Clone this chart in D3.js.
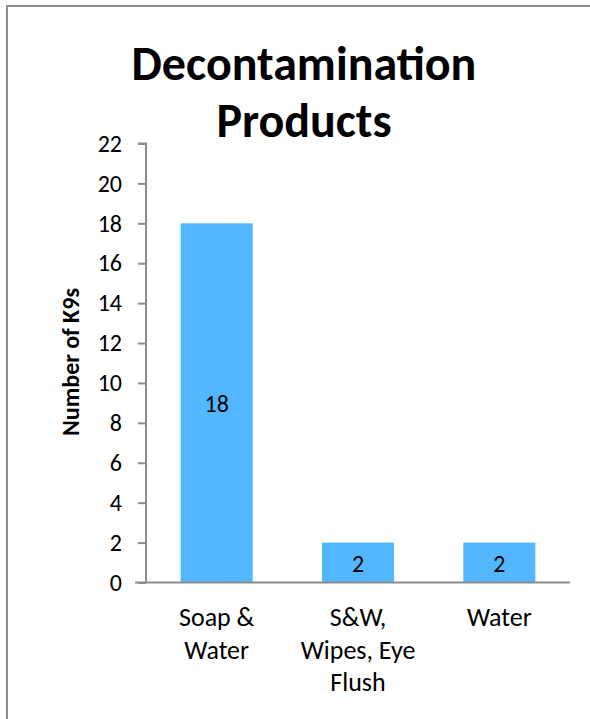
<!DOCTYPE html>
<html>
<head>
<meta charset="utf-8">
<script src="https://cdn.jsdelivr.net/npm/d3@7"></script>
<style>
  html, body { margin: 0; padding: 0; background: #fff; }
  svg { display: block; }
  text { font-family: Carlito, Lato, "Open Sans", sans-serif; }
</style>
</head>
<body>
<svg id="chart" width="590" height="719"></svg>
<script>
// Chart data
const categories = [["Soap &", "Water"], ["S&W,", "Wipes, Eye", "Flush"], ["Water"]];
const categoryKeys = ["Soap & Water", "S&W, Wipes, Eye Flush", "Water"];
const values = [18, 2, 2];
const yTicks = [0, 2, 4, 6, 8, 10, 12, 14, 16, 18, 20, 22];
const titleLines = ["Decontamination", "Products"];
const yLabel = "Number of K9s";

const svg = d3.select("#chart");
const W = 590, H = 719;
const FONT = "Carlito, Lato, 'Open Sans', sans-serif";

// outer frame (top and left edges visible)
svg.append("line").attr("x1", 7).attr("x2", W).attr("y1", 6).attr("y2", 6)
  .attr("stroke", "#8c8c8c").attr("stroke-width", 2);
svg.append("line").attr("x1", 7).attr("x2", 7).attr("y1", 5).attr("y2", H)
  .attr("stroke", "#8c8c8c").attr("stroke-width", 2);

const plot = { left: 146, right: 570, top: 143.5, bottom: 582.5 };

const x = d3.scaleBand().domain(categoryKeys)
  .range([plot.left, plot.right]).paddingInner(0.49).paddingOuter(0.245);
const y = d3.scaleLinear().domain([0, 22]).range([plot.bottom, plot.top]);

// title
const title = svg.append("text")
  .attr("text-anchor", "middle")
  .attr("font-size", 48).attr("font-weight", "bold").attr("fill", "#000");
titleLines.forEach((t, i) => {
  title.append("tspan").attr("x", 304).attr("y", 80 + i * 57).text(t);
});

// bars
svg.append("g").selectAll("rect").data(values).join("rect")
  .attr("x", (d, i) => x(categoryKeys[i]))
  .attr("y", d => y(d))
  .attr("width", x.bandwidth())
  .attr("height", d => y(0) - y(d))
  .attr("fill", "#52b7fe");

// value labels
svg.append("g").selectAll("text").data(values).join("text")
  .attr("x", (d, i) => x(categoryKeys[i]) + x.bandwidth() / 2)
  .attr("y", d => (y(d) + y(0)) / 2 + 9)
  .attr("text-anchor", "middle")
  .attr("font-size", 24).attr("fill", "#000")
  .text(d => d);

// y axis
const yAxis = d3.axisLeft(y).tickValues(yTicks).tickSize(8).tickPadding(16);
const gy = svg.append("g").attr("transform", `translate(${plot.left},0)`).call(yAxis);
gy.select(".domain").attr("stroke", "#8c8c8c").attr("stroke-width", 2)
  .attr("d", `M-8,${plot.top}H0V${plot.bottom}`);
gy.selectAll(".tick line").attr("stroke", "#8c8c8c").attr("stroke-width", 2);
gy.selectAll(".tick text").attr("font-size", 24).attr("fill", "#000")
  .attr("font-family", FONT);

// x axis baseline
const xAxis = d3.axisBottom(x).tickSize(0).tickFormat("");
const gx = svg.append("g").attr("transform", `translate(0,${plot.bottom})`).call(xAxis);
gx.select(".domain").attr("stroke", "#8c8c8c").attr("stroke-width", 2)
  .attr("d", `M${plot.left - 11},0H${plot.right}`);

// category labels
const catG = svg.append("g");
categories.forEach((lines, i) => {
  const cx = x(categoryKeys[i]) + x.bandwidth() / 2;
  const t = catG.append("text").attr("text-anchor", "middle")
    .attr("font-size", 26).attr("fill", "#000");
  lines.forEach((ln, j) => {
    t.append("tspan").attr("x", cx).attr("y", 626 + j * 32.5).text(ln);
  });
});

// y axis title
svg.append("text")
  .attr("transform", `translate(79,362) rotate(-90)`)
  .attr("text-anchor", "middle")
  .attr("font-size", 24).attr("font-weight", "bold").attr("fill", "#000")
  .text(yLabel);
</script>
</body>
</html>
